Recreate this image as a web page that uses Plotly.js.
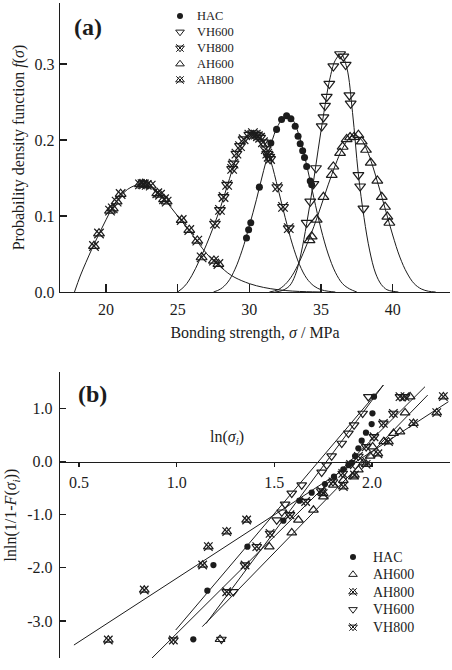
<!DOCTYPE html>
<html><head><meta charset="utf-8">
<script src="https://cdn.plot.ly/plotly-3.0.1.min.js"></script>
<style>html,body{margin:0;padding:0;background:#fff}#chart{width:452px;height:670px}</style>
</head><body><div id="chart"></div><script>
// ---------- Panel (a): probability density f(sigma) vs bonding strength (MPa) ----------
const topHacX = [29.8, 29.95, 30.1, 30.7, 31.5, 31.9, 32.25, 32.6, 32.9, 33.2, 33.4, 33.55, 33.72, 33.85, 34.0, 34.25, 34.35];
const topHacY = [0.071, 0.082, 0.091, 0.138, 0.196, 0.214, 0.227, 0.232, 0.228, 0.218, 0.205, 0.195, 0.186, 0.177, 0.165, 0.146, 0.141];
const topVh600X = [34.0, 34.25, 34.47, 34.65, 35.05, 35.17, 35.28, 35.4, 35.58, 35.86, 36.33, 36.56, 36.72, 36.98, 37.07, 37.61, 37.73, 37.96];
const topVh600Y = [0.091, 0.119, 0.142, 0.163, 0.218, 0.230, 0.245, 0.257, 0.274, 0.297, 0.313, 0.310, 0.299, 0.259, 0.248, 0.154, 0.139, 0.110];
const topVh800X = [27.6, 27.95, 28.2, 28.45, 28.8, 28.9, 29.1, 29.35, 29.6, 30.0, 30.25, 30.45, 30.6, 30.75, 30.95, 31.15, 31.25, 31.35, 31.45, 31.95, 32.35, 32.75];
const topVh800Y = [0.090, 0.108, 0.125, 0.141, 0.162, 0.169, 0.182, 0.192, 0.201, 0.207, 0.209, 0.207, 0.205, 0.203, 0.197, 0.188, 0.182, 0.178, 0.175, 0.138, 0.112, 0.084];
const topAh600X = [34.2, 34.35, 34.7, 35.17, 35.75, 35.86, 36.33, 36.51, 36.79, 37.03, 37.31, 37.61, 37.84, 38.14, 38.47, 38.93, 39.24, 39.47, 39.63, 39.77];
const topAh600Y = [0.068, 0.073, 0.095, 0.125, 0.154, 0.165, 0.183, 0.191, 0.201, 0.2035, 0.204, 0.2066, 0.198, 0.187, 0.170, 0.1465, 0.125, 0.112, 0.099, 0.091];
const topAh800X = [19.16, 19.51, 20.28, 20.47, 20.74, 21.02, 22.37, 22.55, 22.65, 22.84, 23.12, 23.58, 23.77, 24.05, 24.23, 25.28, 25.81, 26.37, 26.67, 27.53, 27.84];
const topAh800Y = [0.0605, 0.077, 0.107, 0.110, 0.119, 0.129, 0.1417, 0.142, 0.1417, 0.141, 0.140, 0.130, 0.128, 0.122, 0.119, 0.0947, 0.0816, 0.0675, 0.0456, 0.0412, 0.0368];

// fitted density curves
const fitHacX = [27.5, 28, 28.5, 29, 29.5, 30, 30.5, 31, 31.5, 32, 32.5, 33, 33.5, 34, 34.5, 35, 35.5, 36, 36.5, 37, 37.5];
const fitHacY = [0, 0.004, 0.013, 0.030, 0.055, 0.087, 0.122, 0.160, 0.194, 0.219, 0.231, 0.227, 0.204, 0.167, 0.124, 0.083, 0.050, 0.026, 0.011, 0.004, 0];
const fitVh600X = [31.8, 32.3, 32.8, 33.2, 33.6, 34, 34.4, 34.8, 35.2, 35.6, 36, 36.4, 36.8, 37.2, 37.6, 38, 38.4, 38.8, 39.2, 39.6, 40, 40.4];
const fitVh600Y = [0, 0.002, 0.008, 0.022, 0.050, 0.090, 0.136, 0.187, 0.236, 0.279, 0.305, 0.313, 0.295, 0.236, 0.156, 0.098, 0.054, 0.025, 0.010, 0.003, 0.001, 0];
const fitVh800X = [25, 25.5, 26, 26.5, 27, 27.5, 28, 28.5, 29, 29.5, 30, 30.5, 31, 31.5, 32, 32.5, 33, 33.5, 34, 34.5, 35, 35.5, 36];
const fitVh800Y = [0, 0.008, 0.022, 0.041, 0.062, 0.086, 0.112, 0.142, 0.172, 0.195, 0.207, 0.209, 0.198, 0.172, 0.136, 0.098, 0.063, 0.036, 0.018, 0.008, 0.003, 0.001, 0];
const fitAh600X = [31.4, 32, 32.5, 33, 33.5, 34, 34.5, 35, 35.5, 36, 36.5, 37, 37.4, 37.8, 38.2, 38.6, 39, 39.5, 40, 40.5, 41, 41.5, 42, 42.5, 43];
const fitAh600Y = [0, 0.003, 0.010, 0.022, 0.040, 0.062, 0.086, 0.113, 0.141, 0.167, 0.189, 0.203, 0.206, 0.201, 0.187, 0.166, 0.141, 0.108, 0.075, 0.046, 0.025, 0.011, 0.004, 0.001, 0];
const fitAh800X = [17.8, 18.2, 18.6, 19, 19.5, 20, 20.5, 21, 21.5, 22, 22.5, 23, 23.5, 24, 24.5, 25, 25.5, 26, 26.5, 27, 27.5, 28, 28.5, 29, 30, 31, 32, 33, 34, 35];
const fitAh800Y = [0, 0.021, 0.039, 0.056, 0.076, 0.095, 0.113, 0.126, 0.135, 0.140, 0.142, 0.140, 0.134, 0.124, 0.112, 0.100, 0.088, 0.076, 0.063, 0.051, 0.041, 0.033, 0.025, 0.019, 0.011, 0.006, 0.003, 0.0012, 0.0004, 0];

const topXTicks = [20, 25, 30, 35, 40];
const topYTicks = [0, 0.1, 0.2, 0.3];
const topYTickText = ['0.0', '0.1', '0.2', '0.3'];

// ---------- Panel (b): Weibull plot lnln(1/(1-F)) vs ln(sigma) ----------
const wbHacX = [1.085, 1.157, 1.188, 1.362, 1.546, 1.628, 1.691, 1.759, 1.805, 1.853, 1.879, 1.896, 1.913, 1.930, 1.947, 1.969, 1.998, 2.002, 2.010];
const wbHacY = [-3.346, -2.429, -1.946, -1.601, -1.111, -0.734, -0.584, -0.421, -0.282, -0.144, -0.063, -0.019, 0.107, 0.251, 0.395, 0.546, 0.709, 0.910, 1.224];
const wbAh600X = [1.222, 1.474, 1.589, 1.623, 1.700, 1.751, 1.802, 1.853, 1.904, 1.930, 1.956, 1.990, 2.003, 2.060, 2.110, 2.143, 2.169, 2.195];
const wbAh600Y = [-3.346, -1.601, -1.337, -1.099, -0.910, -0.659, -0.440, -0.350, -0.282, -0.150, -0.019, 0.107, 0.282, 0.380, 0.534, 0.565, 0.923, 1.224];
const wbAh800X = [0.650, 0.834, 1.133, 1.162, 1.256, 1.358, 1.750, 1.853, 1.910, 1.970, 2.030, 2.084, 2.212, 2.331, 2.365];
const wbAh800Y = [-3.358, -2.417, -1.946, -1.600, -1.318, -1.099, -0.600, -0.471, -0.250, -0.050, 0.150, 0.377, 0.722, 0.923, 1.224];
const wbVh600X = [1.229, 1.290, 1.512, 1.538, 1.555, 1.589, 1.640, 1.742, 1.768, 1.793, 1.845, 1.879, 1.908, 1.952, 1.981];
const wbVh600Y = [-3.346, -2.45, -1.10, -0.95, -0.80, -0.596, -0.44, -0.20, -0.063, 0.107, 0.345, 0.534, 0.69, 0.910, 1.224];
const wbVh800X = [0.983, 1.256, 1.350, 1.410, 1.478, 1.580, 1.660, 1.740, 1.800, 1.850, 1.890, 1.930, 1.970, 2.010, 2.058, 2.109, 2.143, 2.169];
const wbVh800Y = [-3.358, -2.450, -1.946, -1.600, -1.350, -1.000, -0.750, -0.550, -0.380, -0.220, -0.050, 0.100, 0.280, 0.470, 0.722, 0.910, 1.224, 1.224];

// fitted straight lines (end points)
const lineAh800X = [0.474, 2.391], lineAh800Y = [-3.453, 1.130];
const lineVh800X = [0.872, 2.271], lineVh800Y = [-3.704, 1.412];
const lineAh600X = [1.131, 2.285], lineAh600Y = [-3.107, 1.255];
const lineHacX = [0.995, 2.058], lineHacY = [-3.170, 1.444];
const lineVh600X = [1.150, 2.058], lineVh600Y = [-3.050, 1.444];

const botXTicks = [0.5, 1.0, 1.5, 2.0];
const botXTickText = ['0.5', '1.0', '1.5', '2.0'];
const botYTicks = [-3, -2, -1, 0, 1];
const botYTickText = ['-3.0', '-2.0', '-1.0', '0.0', '1.0'];

const legendTopNames = ['HAC', 'VH600', 'VH800', 'AH600', 'AH800'];
const legendBotNames = ['HAC', 'AH600', 'AH800', 'VH600', 'VH800'];

// ---------- styling / layout ----------
const W = 452, H = 670;
const FONT = 'Liberation Serif';
const INK = '#1c1c1c';
const SYM = {
  HAC: ['circle'],
  VH600: ['triangle-down-open'],
  AH600: ['triangle-up-open'],
  VH800: ['triangle-down-open', 'x-thin-open'],
  AH800: ['triangle-up-open', 'x-thin-open']
};
const PL = 60, PR = 450, TT = 3, TB = 292, BT = 372, BB = 658;
const fx = px => px / W, fy = py => 1 - py / H;

const traces = [];
function markers(xs, ys, name, size, xa, ya) {
  SYM[name].forEach(s => {
    const isDot = s === 'circle';
    traces.push({
      type: 'scatter', mode: 'markers', x: xs, y: ys, xaxis: xa, yaxis: ya, name: name,
      showlegend: false, cliponaxis: false, hoverinfo: 'skip',
      marker: { symbol: s, size: isDot ? size * 0.78 : size, color: INK, line: { color: INK, width: isDot ? 0 : 1.2 } }
    });
  });
}
function curve(xs, ys, xa, ya, spline) {
  traces.push({
    type: 'scatter', mode: 'lines', x: xs, y: ys, xaxis: xa, yaxis: ya, showlegend: false, hoverinfo: 'skip',
    line: { color: INK, width: 1, shape: spline ? 'spline' : 'linear', smoothing: 1 }
  });
}

// panel (a)
curve(fitAh800X, fitAh800Y, 'x', 'y', true);
curve(fitVh800X, fitVh800Y, 'x', 'y', true);
curve(fitHacX, fitHacY, 'x', 'y', true);
curve(fitVh600X, fitVh600Y, 'x', 'y', true);
curve(fitAh600X, fitAh600Y, 'x', 'y', true);
markers(topAh800X, topAh800Y, 'AH800', 9.5, 'x', 'y');
markers(topVh800X, topVh800Y, 'VH800', 9.5, 'x', 'y');
markers(topHacX, topHacY, 'HAC', 9, 'x', 'y');
markers(topVh600X, topVh600Y, 'VH600', 9.5, 'x', 'y');
markers(topAh600X, topAh600Y, 'AH600', 9.5, 'x', 'y');

// panel (b)
curve(lineAh800X, lineAh800Y, 'x2', 'y2', false);
curve(lineVh800X, lineVh800Y, 'x2', 'y2', false);
curve(lineAh600X, lineAh600Y, 'x2', 'y2', false);
curve(lineHacX, lineHacY, 'x2', 'y2', false);
curve(lineVh600X, lineVh600Y, 'x2', 'y2', false);
markers(wbAh800X, wbAh800Y, 'AH800', 8.5, 'x2', 'y2');
markers(wbVh800X, wbVh800Y, 'VH800', 8.5, 'x2', 'y2');
markers(wbHacX, wbHacY, 'HAC', 8, 'x2', 'y2');
markers(wbVh600X, wbVh600Y, 'VH600', 8.5, 'x2', 'y2');
markers(wbAh600X, wbAh600Y, 'AH600', 8.5, 'x2', 'y2');

// hand-built legends (keys on a pixel overlay axis)
const annotations = [];
function legend(names, keyX, textX, y0, step, size, fsize) {
  names.forEach((n, i) => {
    const py = y0 + i * step;
    SYM[n].forEach(s => {
      const isDot = s === 'circle';
      traces.push({
        type: 'scatter', mode: 'markers', x: [keyX], y: [py], xaxis: 'x3', yaxis: 'y3',
        showlegend: false, hoverinfo: 'skip', cliponaxis: false,
        marker: { symbol: s, size: isDot ? size * 0.8 : size, color: INK, line: { color: INK, width: isDot ? 0 : 1 } }
      });
    });
    annotations.push({ xref: 'paper', yref: 'paper', x: fx(textX), y: fy(py), xanchor: 'left', yanchor: 'middle',
      text: n, showarrow: false, font: { family: FONT, size: fsize, color: INK } });
  });
}
legend(legendTopNames, 180, 195, 16, 16, 7.5, 12.5);
legend(legendBotNames, 353, 371, 557, 17.5, 7.5, 14);

annotations.push({ xref: 'paper', yref: 'paper', x: fx(88), y: fy(27), xanchor: 'center', yanchor: 'middle',
  text: '<b>(a)</b>', showarrow: false, font: { family: FONT, size: 24, color: INK } });
annotations.push({ xref: 'paper', yref: 'paper', x: fx(92), y: fy(394), xanchor: 'center', yanchor: 'middle',
  text: '<b>(b)</b>', showarrow: false, font: { family: FONT, size: 24, color: INK } });
annotations.push({ xref: 'paper', yref: 'paper', x: fx(227), y: fy(437), xanchor: 'center', yanchor: 'middle',
  text: 'ln(<i>σ</i><sub><i>i</i></sub>)', showarrow: false, font: { family: FONT, size: 16, color: INK } });

const botYRange = [-3.697, 1.689];
const botY0Pos = fy(BB) + (0 - botYRange[0]) / (botYRange[1] - botYRange[0]) * (fy(BT) - fy(BB));

function ax(extra) {
  return Object.assign({
    showline: true, linecolor: INK, linewidth: 1.2, showgrid: false, zeroline: false,
    tickcolor: INK, tickwidth: 1.2, tickfont: { family: FONT, size: 16, color: INK }, fixedrange: true
  }, extra);
}

const layout = {
  width: W, height: H, margin: { l: 0, r: 0, t: 0, b: 0 },
  paper_bgcolor: '#fff', plot_bgcolor: 'rgba(0,0,0,0)', showlegend: false,
  font: { family: FONT, color: INK, size: 16 },
  xaxis: ax({
    domain: [fx(PL), fx(PR)], range: [16.79, 44.0], anchor: 'y', ticks: 'inside', ticklen: 8,
    tickvals: topXTicks, ticktext: topXTicks.map(String), ticklabelstandoff: 3,
    title: { text: 'Bonding strength, <i>σ</i> / MPa', font: { family: FONT, size: 16, color: INK }, standoff: 9 }
  }),
  yaxis: ax({
    domain: [fy(TB), fy(TT)], range: [0, 0.3803], anchor: 'x', ticks: 'inside', ticklen: 7,
    tickvals: topYTicks, ticktext: topYTickText, ticklabelstandoff: 1,
    title: { text: 'Probability density function <i>f</i>(<i>σ</i>)', font: { family: FONT, size: 16, color: INK }, standoff: 6 }
  }),
  xaxis2: ax({
    domain: [fx(PL), fx(PR)], range: [0.4027, 2.399], anchor: 'free', position: botY0Pos,
    ticks: 'outside', ticklen: 4, tickvals: botXTicks, ticktext: botXTickText, ticklabelstandoff: 2
  }),
  yaxis2: ax({
    domain: [fy(BB), fy(BT)], range: botYRange, anchor: 'x2', ticks: 'inside', ticklen: 6,
    tickvals: botYTicks, ticktext: botYTickText, ticklabelstandoff: 3,
    title: { text: 'lnln(1/1-<i>F</i>(<i>σ</i><sub><i>i</i></sub>))', font: { family: FONT, size: 16, color: INK }, standoff: 6 }
  }),
  xaxis3: { domain: [0, 1], range: [0, W], anchor: 'y3', visible: false, fixedrange: true },
  yaxis3: { domain: [0, 1], range: [H, 0], anchor: 'x3', visible: false, fixedrange: true },
  annotations: annotations
};

Plotly.newPlot('chart', traces, layout, { staticPlot: true, displayModeBar: false });
</script></body></html>
